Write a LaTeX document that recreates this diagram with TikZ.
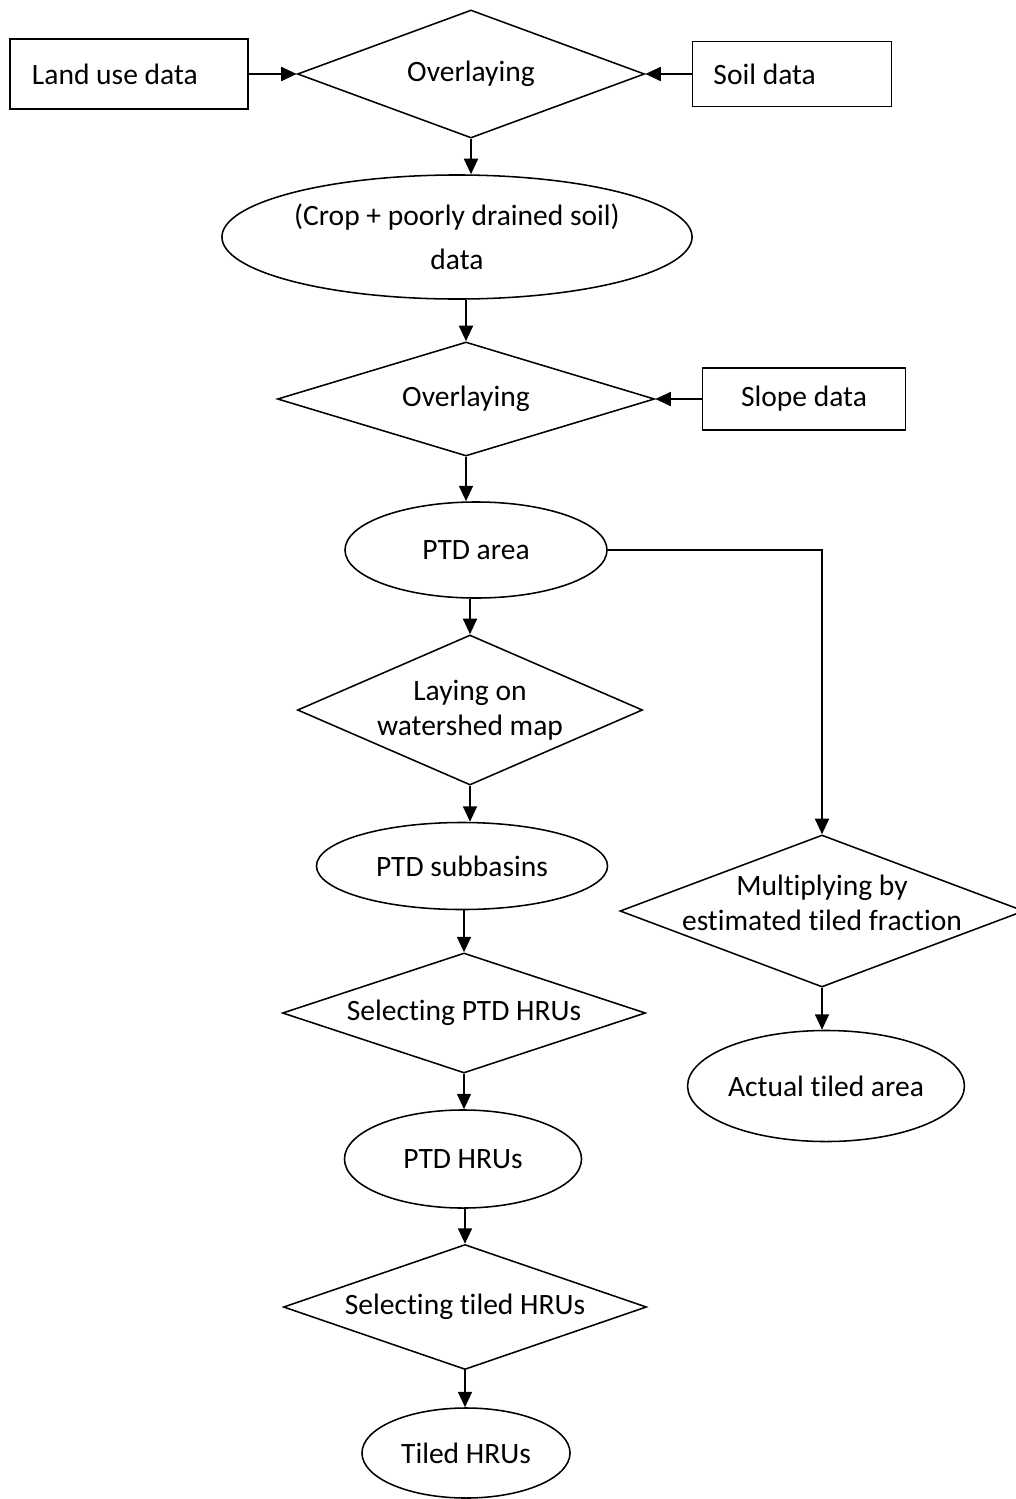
\documentclass[tikz,border=0pt]{standalone}
\usepackage{fontspec}
\setmainfont{Carlito}[Ligatures=NoCommon]
\usetikzlibrary{shapes.geometric,arrows.meta}

\begin{document}
\begin{tikzpicture}[x=0.025cm, y=-0.025cm, line width=1.1pt,
  every node/.style={font=\fontsize{21}{25}\selectfont},
  databox/.style={draw, rectangle, inner sep=0pt},
  dia/.style={draw, diamond, inner sep=0pt},
  oval/.style={draw, ellipse, inner sep=0pt},
  arr/.style={-{Triangle[length=11pt, width=10pt]}}]
\useasboundingbox (0,0) rectangle (1016,1499);

% top row
\node[databox, minimum width=5.95cm, minimum height=1.75cm, text width=4.85cm, inner xsep=0.55cm, align=flush left] (land) at (129,74) {Land use data};
\node[dia, aspect=2.71, minimum width=8.675cm, minimum height=3.2cm] (ov1) at (471,74) {Overlaying};
\node[databox, minimum width=4.975cm, minimum height=1.625cm, text width=3.925cm, inner xsep=0.525cm, align=flush left] (soil) at (792,74) {Soil data};
\draw[arr] (land) -- (ov1);
\draw[arr] (soil) -- (ov1);

\node[oval, minimum width=11.75cm, minimum height=3.1cm, align=center] (crop) at (457,237) {(Crop + poorly drained soil)\\[6pt]data};
\draw[arr] (ov1.south) -- (ov1.south |- crop.north);

\node[dia, aspect=3.31, minimum width=9.425cm, minimum height=2.85cm] (ov2) at (466,399) {Overlaying};
\node[databox, minimum width=5.075cm, minimum height=1.55cm] (slope) at (804,399) {Slope data};
\draw[arr] (ov2.north |- crop.south) -- (ov2.north);
\draw[arr] (slope) -- (ov2);

\node[oval, minimum width=6.55cm, minimum height=2.4cm] (ptd) at (476,550) {PTD area};
\draw[arr] (ov2.south) -- (ov2.south |- ptd.north);

% main column
\node[dia, aspect=2.3, minimum width=8.625cm, minimum height=3.75cm, align=center] (lay) at (470,710) {Laying on\\watershed map};
\node[oval, minimum width=7.275cm, minimum height=2.175cm] (sub) at (462,866) {PTD subbasins};
\node[dia, aspect=3.03, minimum width=9.075cm, minimum height=3cm] (selptd) at (464,1013) {Selecting PTD HRUs};
\node[oval, minimum width=5.925cm, minimum height=2.45cm] (hru) at (463,1159) {PTD HRUs};
\node[dia, aspect=2.9, minimum width=9.075cm, minimum height=3.125cm] (seltile) at (465,1307) {Selecting tiled HRUs};
\node[oval, minimum width=5.2cm, minimum height=2.25cm] (tiled) at (466,1453) {Tiled HRUs};
\draw[arr] (lay.north |- ptd.south) -- (lay.north);
\draw[arr] (lay.south) -- (lay.south |- sub.north);
\draw[arr] (selptd.north |- sub.south) -- (selptd.north);
\draw[arr] (selptd.south) -- (selptd.south |- hru.north);
\draw[arr] (seltile.north |- hru.south) -- (seltile.north);
\draw[arr] (seltile.south) -- (seltile.south |- tiled.north);

% right branch
\node[dia, aspect=2.66, minimum width=10.1cm, minimum height=3.8cm, label={[name=multtext, align=center, yshift=6pt]center:Multiplying by\\estimated tiled fraction}] (mult) at (822,911) {};
\node[oval, minimum width=6.7cm, minimum height=2.775cm] (act) at (826,1086) {Actual tiled area};
\draw[arr] (ptd.east) -| (mult.north);
\draw[arr] (mult.south) -- (mult.south |- act.north);

\end{tikzpicture}
\end{document}
